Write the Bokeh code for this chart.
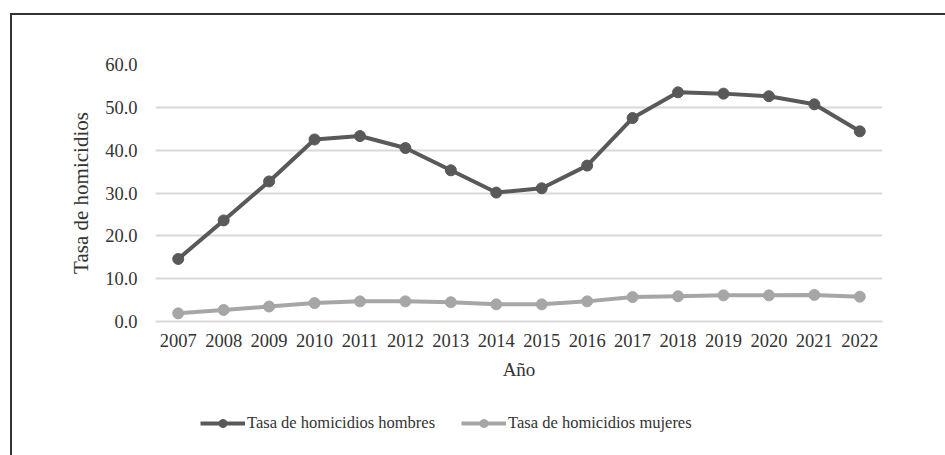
from bokeh.plotting import figure
from bokeh.layouts import column
from bokeh.models import FactorRange, Range1d, NumeralTickFormatter, SingleIntervalTicker, Legend, LegendItem
from bokeh.embed import file_html
from bokeh.resources import INLINE

years = [str(y) for y in range(2007, 2023)]
hombres = [14.6, 23.6, 32.7, 42.5, 43.3, 40.5, 35.3, 30.1, 31.1, 36.4, 47.5, 53.5, 53.2, 52.6, 50.7, 44.4]
mujeres = [1.9, 2.7, 3.5, 4.3, 4.7, 4.7, 4.5, 4.0, 4.0, 4.7, 5.7, 5.9, 6.1, 6.1, 6.2, 5.8]
series_names = ["Tasa de homicidios hombres", "Tasa de homicidios mujeres"]
y_label = "Tasa de homicidios"
x_label = "Año"

FONT = "Liberation Serif"
TXT = "#333333"
C_H = "#595959"
C_M = "#a6a6a6"

p = figure(
    width=933, height=386,
    x_range=FactorRange(*years, range_padding=0),
    y_range=Range1d(0, 60),
    output_backend="svg", toolbar_location=None,
    min_border_left=143, min_border_right=63, min_border_top=49, min_border_bottom=80,
)
p.outline_line_color = None
p.background_fill_color = "white"
p.border_fill_color = "white"

p.xgrid.grid_line_color = None
p.ygrid.grid_line_color = "#d9d9d9"
p.ygrid.grid_line_width = 2
p.yaxis.ticker = SingleIntervalTicker(interval=10)
p.yaxis.formatter = NumeralTickFormatter(format="0.0")

for ax in (p.xaxis[0], p.yaxis[0]):
    ax.axis_line_color = None
    ax.major_tick_line_color = None
    ax.minor_tick_line_color = None
    ax.major_tick_out = 0
    ax.major_tick_in = 0
    ax.major_label_text_font = FONT
    ax.major_label_text_color = TXT
    ax.major_label_text_font_size = "18.5px"
    ax.axis_label_text_font = FONT
    ax.axis_label_text_color = TXT
    ax.axis_label_text_font_style = "normal"

p.xaxis.axis_line_color = "#d9d9d9"
p.xaxis.axis_line_width = 2
p.xaxis.major_label_standoff = 12
p.xaxis.axis_label = x_label
p.xaxis.axis_label_text_font_size = "19px"
p.xaxis.axis_label_standoff = 9

p.yaxis.major_label_standoff = 14
p.yaxis.axis_label = y_label
p.yaxis.axis_label_text_font_size = "21px"
p.yaxis.axis_label_standoff = 9

p.line(years, hombres, line_color=C_H, line_width=4)
p.scatter(years, hombres, size=11, fill_color=C_H, line_color=C_H)
p.line(years, mujeres, line_color=C_M, line_width=4)
p.scatter(years, mujeres, size=11, fill_color=C_M, line_color=C_M)

# legend strip below the chart (its glyphs hold one value each, kept outside the visible range)
q = figure(
    width=933, height=54, output_backend="svg", toolbar_location=None,
    x_range=FactorRange(*years), y_range=Range1d(-2, -1),
    min_border=0, x_axis_type=None, y_axis_type=None,
)
q.outline_line_color = None
q.grid.visible = False
q.border_fill_color = "white"
lh = q.line(years[:1], hombres[:1], line_color=C_H, line_width=4)
sh = q.scatter(years[:1], hombres[:1], size=11, fill_color=C_H, line_color=C_H)
lm = q.line(years[:1], mujeres[:1], line_color=C_M, line_width=4)
sm = q.scatter(years[:1], mujeres[:1], size=11, fill_color=C_M, line_color=C_M)

legend = Legend(
    items=[LegendItem(label=series_names[0], renderers=[lh, sh]),
           LegendItem(label=series_names[1], renderers=[lm, sm])],
    orientation="horizontal",
    location=(45, 22),
    glyph_width=45, glyph_height=20,
    label_text_font=FONT, label_text_font_size="16.5px", label_text_color=TXT,
    label_standoff=2, spacing=26, padding=0, margin=0,
    border_line_color=None, background_fill_alpha=0,
)
q.add_layout(legend, "center")

layout = column(
    p, q, spacing=0,
    margin=(13, 0, 0, 10),
    styles={"border-top": "2px solid #333333", "border-left": "2px solid #333333"},
)

open("out.html", "w").write(file_html(layout, INLINE))
